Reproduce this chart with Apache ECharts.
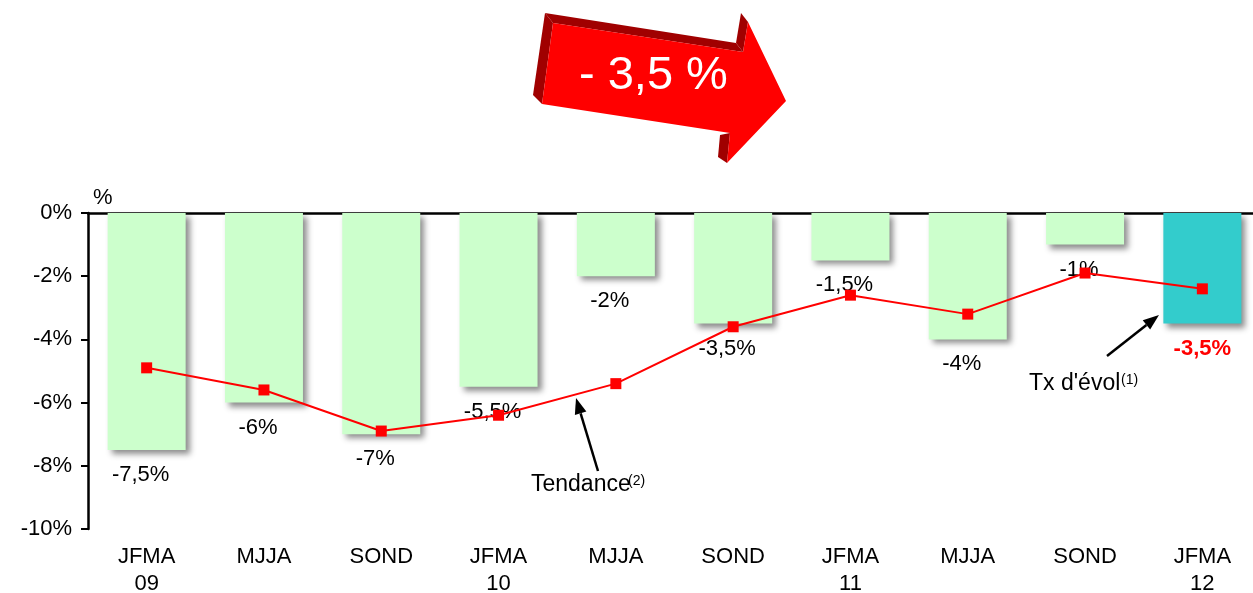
<!DOCTYPE html>
<html>
<head>
<title>Tx d'évolution</title>
<meta charset="UTF-8">
<script src="https://cdn.jsdelivr.net/npm/echarts/dist/echarts.min.js"></script>
<style>
html, body { margin: 0; padding: 0; background: #fff; overflow: hidden; }
#chart-container { width: 1253px; height: 593px; }
</style>
</head>
<body>
<div id="chart-container"></div>

<script>
// data
var categories = ['JFMA\n09', 'MJJA', 'SOND', 'JFMA\n10', 'MJJA', 'SOND', 'JFMA\n11', 'MJJA', 'SOND', 'JFMA\n12'];
var evolValues = [-7.5, -6, -7, -5.5, -2, -3.5, -1.5, -4, -1, -3.5];
var trendValues = [-4.9, -5.6, -6.9, -6.4, -5.4, -3.6, -2.6, -3.2, -1.9, -2.4];
var yTicks = [0, -2, -4, -6, -8, -10];

var myChart = echarts.init(document.getElementById('chart-container'));
var font = 'Liberation Sans, Arial, sans-serif';
var fs = 22;

function fmt(v) {
  return String(v).replace('.', ',') + '%';
}

var barData = evolValues.map(function (v, i) {
  var last = i === evolValues.length - 1;
  return {
    value: v,
    itemStyle: { color: last ? '#33CCCC' : '#CCFFCC' },
    label: last ? { color: '#FF0000', fontWeight: 'bold', offset: [0, 0] } : {}
  };
});

// small helper for the annotation arrows
function arrow(x1, y1, x2, y2) {
  var a = Math.atan2(y2 - y1, x2 - x1);
  var len = 16, w = 6;
  var bx = x2 - len * Math.cos(a), by = y2 - len * Math.sin(a);
  return [
    { type: 'line', shape: { x1: x1, y1: y1, x2: bx, y2: by }, style: { stroke: '#000', lineWidth: 2.5 } },
    { type: 'polygon', shape: { points: [
      [x2, y2],
      [bx + w * Math.sin(a), by - w * Math.cos(a)],
      [bx - w * Math.sin(a), by + w * Math.cos(a)]
    ] }, style: { fill: '#000' } }
  ];
}

var dark = '#A00000';
var graphics = [
  // 3D red arrow
  { type: 'polygon', shape: { points: [[545, 13], [553, 23], [542, 104], [533, 95]] }, style: { fill: dark } },
  { type: 'polygon', shape: { points: [[545, 13], [736, 43], [743, 52], [553, 23]] }, style: { fill: dark } },
  { type: 'polygon', shape: { points: [[736, 43], [741, 13], [748, 22], [743, 52]] }, style: { fill: dark } },
  { type: 'polygon', shape: { points: [[720, 135], [730, 133], [727, 163], [718, 157]] }, style: { fill: dark } },
  { type: 'polygon', shape: { points: [[553, 23], [743, 52], [748, 22], [786, 101], [727, 163], [730, 133], [542, 104]] }, style: { fill: '#FF0000' } },
  { type: 'text', left: 579, top: 53, style: { text: '- 3,5 %', fill: '#fff', font: '47px ' + font } },
  // unit
  { type: 'text', left: 93, top: 187, style: { text: '%', fill: '#000', font: fs + 'px ' + font } },
  // annotations
  { type: 'text', left: 531, top: 473, style: { text: 'Tendance', fill: '#000', font: '23px ' + font } },
  { type: 'text', left: 628, top: 474, style: { text: '(2)', fill: '#000', font: '14px ' + font } },
  { type: 'text', left: 1029, top: 372, style: { text: "Tx d'évol", fill: '#000', font: '23px ' + font } },
  { type: 'text', left: 1121, top: 373, style: { text: '(1)', fill: '#000', font: '14px ' + font } }
].concat(arrow(598, 471, 576, 398)).concat(arrow(1107, 356, 1159, 315));

var option = {
  animation: false,
  textStyle: { fontFamily: font },
  grid: { left: 88, top: 213, bottom: 64, right: -8, containLabel: false, outerBoundsMode: 'none' },
  xAxis: [
    {
      type: 'category',
      data: categories,
      position: 'bottom',
      axisLine: { show: false },
      axisTick: { show: false },
      axisLabel: { color: '#000', fontSize: fs, lineHeight: 27, margin: 14 }
    },
    {
      type: 'category',
      data: categories,
      position: 'top',
      axisLine: { lineStyle: { color: '#000', width: 2.5 } },
      axisTick: { inside: true, length: 6, lineStyle: { color: '#000', width: 2 } },
      axisLabel: { show: false }
    }
  ],
  yAxis: {
    type: 'value',
    min: yTicks[yTicks.length - 1],
    max: yTicks[0],
    interval: 2,
    splitLine: { show: false },
    axisLine: { show: true, lineStyle: { color: '#000', width: 2.5 } },
    axisTick: { show: true, length: 7, lineStyle: { color: '#000', width: 2 } },
    axisLabel: { color: '#000', fontSize: fs, margin: 16, formatter: function (v) { return v + '%'; } }
  },
  series: [
    {
      name: "Tx d'évol",
      type: 'bar',
      barWidth: 78,
      data: barData,
      itemStyle: { shadowBlur: 6, shadowColor: 'rgba(0,0,0,0.45)', shadowOffsetX: 4, shadowOffsetY: 4 },
      label: {
        show: true,
        position: 'bottom',
        distance: 14,
        color: '#000',
        fontSize: fs,
        offset: [-6, 0],
        formatter: function (p) { return fmt(p.value); }
      }
    },
    {
      name: 'Tendance',
      type: 'line',
      data: trendValues,
      symbol: 'rect',
      symbolSize: 11,
      lineStyle: { color: '#FF0000', width: 2 },
      itemStyle: { color: '#FF0000' },
      z: 5
    }
  ],
  graphic: graphics
};

myChart.setOption(option);
</script>
</body>
</html>
